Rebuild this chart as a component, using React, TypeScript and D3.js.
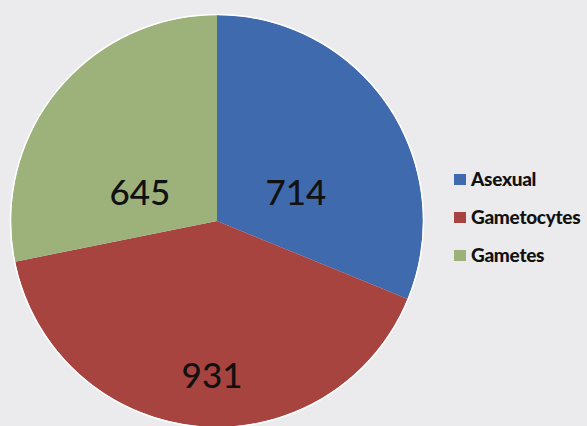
import React from "react";
import * as d3 from "d3";

const categories = ["Asexual", "Gametocytes", "Gametes"];
const values = [714, 931, 645];
const colors = ["#3f6aad", "#a8443f", "#9db27b"];
// label anchor offsets as fractions of radius (layout)
const labelOffsets: [number, number][] = [
  [0.383, -0.146],
  [-0.024, 0.743],
  [-0.374, -0.146],
];

const W = 587;
const H = 426;

export default function App() {
  const cx = 217;
  const cy = 221;
  const R = 206;
  const pie = d3.pie<number>().sort(null).value((d) => d);
  const arcs = pie(values);
  const arc = d3.arc<d3.PieArcDatum<number>>().innerRadius(0).outerRadius(R);

  const legendX = 454;
  const legendY0 = 186;
  const legendStep = 38;

  return (
    <svg
      width={W}
      height={H}
      style={{ position: "absolute", left: 0, top: 0 }}
    >
      <rect x={0} y={0} width={W} height={H} fill="#ebebed" />
      <g transform={`translate(${cx},${cy})`}>
        {arcs.map((a, i) => (
          <path key={i} d={arc(a) || ""} fill={colors[i]} stroke="none" />
        ))}
        <circle r={R + 0.5} fill="none" stroke="#ffffff" strokeWidth={1.5} />
        {arcs.map((a, i) => (
          <text
            key={"t" + i}
            x={labelOffsets[i][0] * R}
            y={labelOffsets[i][1] * R}
            textAnchor="middle"
            dominantBaseline="central"
            fontFamily="Lato, 'Open Sans', sans-serif"
            fontSize={35}
            fontWeight={500}
            fill="#111"
          >
            {values[i]}
          </text>
        ))}
      </g>
      {categories.map((c, i) => (
        <g key={c} transform={`translate(${legendX},${legendY0 + i * legendStep})`}>
          <rect x={0} y={-12} width={12} height={11} fill={colors[i]} />
          <text
            x={17}
            y={0}
            fontFamily="Lato, 'Open Sans', sans-serif"
            fontWeight={900}
            fontSize={19}
            letterSpacing={-0.3}
            fill="#111"
          >
            {c}
          </text>
        </g>
      ))}
    </svg>
  );
}
